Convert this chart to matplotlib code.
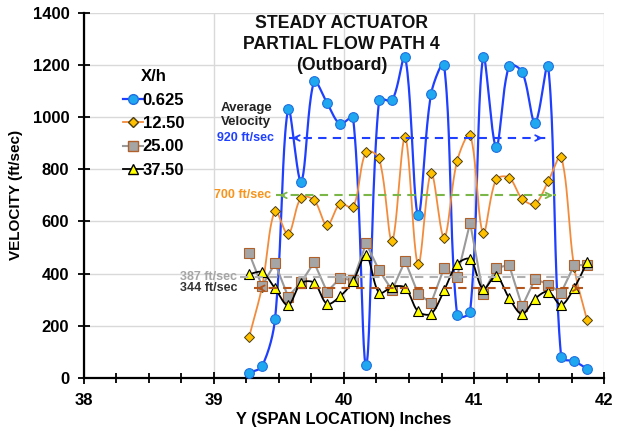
import numpy as np
import matplotlib
matplotlib.use("Agg")
import matplotlib.pyplot as plt

plt.rcParams['font.family'] = ['Liberation Sans', 'DejaVu Sans']
plt.rcParams['font.weight'] = 'bold'

# span locations (inches)
span = [39.27, 39.37, 39.47, 39.57, 39.67, 39.77, 39.87, 39.97, 40.07,
        40.17, 40.27, 40.37, 40.47, 40.57, 40.67, 40.77, 40.87, 40.97,
        41.07, 41.17, 41.27, 41.37, 41.47, 41.57, 41.67, 41.77, 41.87]

v_0625 = [19, 45, 227, 1031, 753, 1137, 1054, 974, 999, 50, 1067, 1064,
          1231, 624, 1090, 1200, 240, 253, 1231, 887, 1197, 1174, 979,
          1197, 79, 64, 35]
v_1250 = [156, 350, 641, 551, 691, 682, 585, 668, 654, 867, 842, 526,
          923, 435, 786, 538, 832, 932, 556, 761, 768, 687, 667, 754,
          848, 425, 221]
v_2500 = [479, 352, 440, 312, 366, 443, 330, 383, 374, 516, 413, 336,
          449, 323, 287, 422, 387, 595, 322, 422, 433, 274, 380, 358,
          327, 432, 433]
v_3750 = [398, 405, 343, 279, 363, 365, 284, 313, 371, 471, 326, 349,
          346, 255, 246, 336, 436, 455, 341, 391, 306, 245, 304, 331,
          280, 345, 444]

legend_labels = ["0.625", "12.50", "25.00", "37.50"]

XLIM = (38, 42)
YLIM = (0, 1400)


def smooth(x, y, kx, ky, n=24):
    # bezier smoothing like a spreadsheet "smoothed line",
    # tangents weighted by segment lengths measured on screen
    p = np.column_stack([np.asarray(x, float) * kx, np.asarray(y, float) * ky])
    p = np.vstack([p[0], p, p[-1]])
    t = np.linspace(0, 1, n)[:, None]
    out = []
    for i in range(1, len(p) - 2):
        p0, p1, p2, p3 = p[i - 1], p[i], p[i + 1], p[i + 2]
        d01 = np.hypot(*(p1 - p0))
        d12 = np.hypot(*(p2 - p1))
        d23 = np.hypot(*(p3 - p2))
        w1 = d12 / (d01 + d12) if d01 + d12 > 0 else 0
        w2 = d12 / (d12 + d23) if d12 + d23 > 0 else 0
        c1 = p1 + (p2 - p0) * w1 / 3
        c2 = p2 - (p3 - p1) * w2 / 3
        b = (1 - t) ** 3 * p1 + 3 * (1 - t) ** 2 * t * c1 \
            + 3 * (1 - t) * t ** 2 * c2 + t ** 3 * p2
        out.append(b)
    out = np.vstack(out)
    return out[:, 0] / kx, out[:, 1] / ky


fig = plt.figure(figsize=(6.17, 4.28), dpi=100)
ax = fig.add_axes([0.136, 0.117, 0.843, 0.853])

# pixels per data unit, for the smoothing
kx = 0.843 * 617 / (XLIM[1] - XLIM[0])
ky = 0.853 * 428 / (YLIM[1] - YLIM[0])

ax.set_xlim(*XLIM)
ax.set_ylim(*YLIM)
ax.set_xticks([38, 39, 40, 41, 42])
ax.set_xticks(np.arange(38, 42.01, 0.25), minor=True)
ax.set_yticks(range(0, 1401, 200))
ax.grid(True, which='major', color='#d9d9d9', linewidth=1.0)
ax.set_axisbelow(True)
for s in ['top', 'right']:
    ax.spines[s].set_visible(False)
for s in ['left', 'bottom']:
    ax.spines[s].set_linewidth(1.6)
ax.tick_params(axis='both', which='both', direction='inout', width=1.3,
               labelsize=12, pad=6)
ax.tick_params(axis='both', which='major', length=9)
ax.tick_params(axis='x', which='minor', length=7)
for lab in ax.get_xticklabels() + ax.get_yticklabels():
    lab.set_fontweight('bold')

# series
sx, sy = smooth(span, v_0625, kx, ky)
ax.plot(sx, sy, color='#1f3fff', linewidth=1.6, zorder=3)
ax.plot(span, v_0625, linestyle='none', marker='o', markersize=7,
        markerfacecolor='#1fa8f0', markeredgecolor='#1f6fe0',
        markeredgewidth=0.8, zorder=3)

sx, sy = smooth(span, v_1250, kx, ky)
ax.plot(sx, sy, color='#f28c3c', linewidth=1.3, zorder=4)
ax.plot(span, v_1250, linestyle='none', marker='D', markersize=5.5,
        markerfacecolor='#ffc000', markeredgecolor='#4d3d10',
        markeredgewidth=0.7, zorder=4)

ax.plot(span, v_2500, color='#9a9a9a', linewidth=1.5, marker='s',
        markersize=6.5, markerfacecolor='#a5a5a5', markeredgecolor='#b0602a',
        markeredgewidth=0.8, zorder=5)

sx, sy = smooth(span, v_3750, kx, ky)
ax.plot(sx, sy, color='black', linewidth=1.3, zorder=6)
ax.plot(span, v_3750, linestyle='none', marker='^', markersize=7.5,
        markerfacecolor='#ffff00', markeredgecolor='black',
        markeredgewidth=0.8, zorder=6)

# legend proxies
lh = [
    plt.Line2D([], [], color='#1f3fff', lw=1.6, marker='o', markersize=7,
               markerfacecolor='#1fa8f0', markeredgecolor='#1f6fe0'),
    plt.Line2D([], [], color='#f28c3c', lw=1.3, marker='D', markersize=5.5,
               markerfacecolor='#ffc000', markeredgecolor='#4d3d10'),
    plt.Line2D([], [], color='#9a9a9a', lw=1.5, marker='s', markersize=6.5,
               markerfacecolor='#a5a5a5', markeredgecolor='#b0602a'),
    plt.Line2D([], [], color='black', lw=1.3, marker='^', markersize=7.5,
               markerfacecolor='#ffff00', markeredgecolor='black'),
]
leg = ax.legend(lh, legend_labels, title='X/h', loc='upper left',
                bbox_to_anchor=(0.18, 0.865), bbox_transform=fig.transFigure,
                frameon=False, fontsize=12, title_fontsize=12,
                handlelength=1.2, handletextpad=0.0, labelspacing=0.5,
                borderpad=0.2)
leg.get_title().set_fontweight('bold')
for t in leg.get_texts():
    t.set_fontweight('bold')

# average velocity lines
avgs = [(920, 39.58, 41.55, '#2040ff', True, True),
        (700, 39.48, 41.63, '#7ab648', True, True),
        (387, 39.20, 41.89, '#b0b0b0', False, False),
        (344, 39.31, 41.84, '#b5541b', True, True)]
for val, x0, x1, col, la, ra in avgs:
    ax.plot([x0, x1], [val, val], color=col, linestyle=(0, (4, 3)),
            linewidth=1.5, zorder=7)
    if la:
        ax.annotate('', xy=(x0, val), xytext=(x0 + 0.08, val),
                    arrowprops=dict(arrowstyle='->', color=col, lw=1.3,
                                    mutation_scale=10), zorder=7)
    if ra:
        ax.annotate('', xy=(x1, val), xytext=(x1 - 0.08, val),
                    arrowprops=dict(arrowstyle='->', color=col, lw=1.3,
                                    mutation_scale=10), zorder=7)

ax.text(39.25, 1008, 'Average\nVelocity', ha='center', va='center',
        fontsize=9.5, fontweight='bold', color='#222222', linespacing=1.2)
ax.text(39.46, 920, '920 ft/sec', ha='right', va='center', fontsize=9,
        fontweight='bold', color='#2040ff')
ax.text(39.44, 700, '700 ft/sec', ha='right', va='center', fontsize=9,
        fontweight='bold', color='#f7941d')
ax.text(39.18, 387, '387 ft/sec', ha='right', va='center', fontsize=9,
        fontweight='bold', color='#a6a6a6')
ax.text(39.18, 344, '344 ft/sec', ha='right', va='center', fontsize=9,
        fontweight='bold', color='#333333')

ax.text(39.98, 1390, 'STEADY ACTUATOR\nPARTIAL FLOW PATH 4\n(Outboard)',
        ha='center', va='top', fontsize=12.7, fontweight='bold',
        linespacing=1.3, color='#111111')

ax.set_xlabel('Y (SPAN LOCATION) Inches', fontsize=11.8, fontweight='bold',
              labelpad=3)
ax.set_ylabel('VELOCITY (ft/sec)', fontsize=11, fontweight='bold',
              labelpad=7)

fig.savefig('out.png', dpi=100)
